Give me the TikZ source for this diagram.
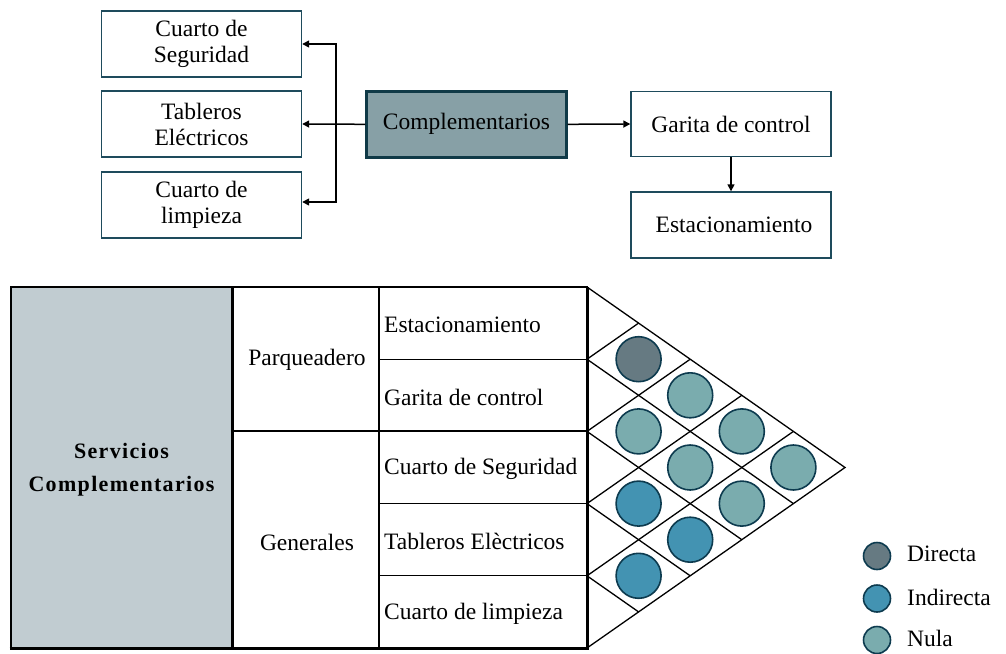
\documentclass[tikz,border=0pt]{standalone}
\usepackage{fontspec}
\setmainfont{Liberation Serif}
\usetikzlibrary{arrows.meta}
\definecolor{boxline}{HTML}{1E4B5C}
\definecolor{compfill}{HTML}{87A0A6}
\definecolor{compline}{HTML}{103A47}
\definecolor{greyfill}{HTML}{C1CCD1}
\definecolor{directa}{HTML}{667A82}
\definecolor{indirecta}{HTML}{4393B2}
\definecolor{nula}{HTML}{7AACAE}
\definecolor{circline}{HTML}{0D3B4F}
\tikzset{
  txt/.style={font=\fontsize{23.5}{26}\selectfont},
  topbox/.style={txt, draw=boxline, line width=1.4pt, minimum width=200pt, minimum height=66pt, align=center, inner sep=0pt},
  compbox/.style={topbox, fill=compfill, draw=compline, line width=2.4pt},
  arr/.style={line width=1.5pt, -{Triangle[length=7pt,width=7pt]}},
  thin/.style={line width=1.3pt},
  thick3/.style={line width=3pt},
  circ/.style={circle, draw=circline, line width=1.6pt, minimum size=45pt, inner sep=0pt},
  legc/.style={circle, draw=circline, line width=1.6pt, minimum size=27pt, inner sep=0pt},
  rowtxt/.style={txt, anchor=west, inner sep=0pt},
}
\begin{document}
\begin{tikzpicture}[x=1pt,y=-1pt]
\useasboundingbox (0,0) rectangle (1006,653);
% top diagram
\node[topbox] (seg) at (201.5,44) {Cuarto de\\Seguridad};
\node[topbox] (tab) at (201.5,124) {Tableros\\Eléctricos};
\node[topbox] (lim) at (201.5,205) {Cuarto de\\limpieza};
\node[compbox] (comp) at (466.5,124.3) {Complementarios};
\node[topbox, minimum height=65pt] (gar) at (731,124) {Garita de control};
\node[topbox] (est) at (731,225) {\hspace*{6pt}Estacionamiento};
\coordinate (bus) at (336,124.3);
\draw[arr] (comp.west) -- (tab.east);
\draw[arr] (bus) |- (seg.east);
\draw[arr] (bus) |- ([yshift=3pt]lim.east);
\draw[arr] (comp.east) -- (gar.west);
\draw[arr] (gar.south) -- (est.north);
% table
\fill[greyfill] (11,287) rectangle (232,648);
\draw[thin] (11,287) rectangle (587,648);
\draw[line width=2pt] (11,287) -- (11,648);
\draw[thick3] (232,287) -- (232,648);
\draw[thick3] (587,287) -- (587,649.5);
\draw[thick3] (9.5,648) -- (588.5,648);
\draw[thin] (232,431) -- (587,431);
\draw[thin] (379,287) -- (379,648);
\foreach \yy in {359.2,503.4,575.6} \draw[thin] (379,\yy) -- (587,\yy);
\node[txt, font=\fontsize{22}{33}\selectfont\bfseries\addfontfeature{LetterSpace=6}, align=center] (serv) at (121.5,470) {Servicios\\Complementarios};
\node[txt] (parq) at (307,359.5) {Parqueadero};
\node[txt] (gen) at (307,542) {Generales};
\node[rowtxt] (r0) at (384,325) {Estacionamiento};
\node[rowtxt] (r1) at (384,397) {Garita de control};
\node[rowtxt] (r2) at (384,469) {Cuarto de Seguridad};
\node[rowtxt] (r3) at (384,541.5) {Tableros Elèctricos};
\node[rowtxt] (r4) at (384,613.5) {Cuarto de limpieza};
% triangle matrix
\draw[thin, line join=miter] (587,287) -- (845,467.5) -- (587,648);
\foreach \k in {1,2,3,4}{
  \pgfmathsetmacro{\yk}{287+72.2*\k}
  \pgfmathsetmacro{\xa}{587+51.6*(5-\k)}
  \pgfmathsetmacro{\ya}{\yk+36.1*(5-\k)}
  \pgfmathsetmacro{\xb}{587+51.6*\k}
  \pgfmathsetmacro{\yb}{\yk-36.1*\k}
  \draw[thin] (587,\yk) -- (\xa,\ya);
  \draw[thin] (587,\yk) -- (\xb,\yb);
}
\node[circ, fill=directa] (c01) at (638.6,359.2) {};
\node[circ, fill=nula] (c02) at (690.2,395.3) {};
\node[circ, fill=nula] (c12) at (638.6,431.4) {};
\node[circ, fill=nula] (c03) at (741.8,431.4) {};
\node[circ, fill=nula] (c13) at (690.2,467.5) {};
\node[circ, fill=nula] (c04) at (793.4,467.5) {};
\node[circ, fill=indirecta] (c23) at (638.6,503.6) {};
\node[circ, fill=nula] (c14) at (741.8,503.6) {};
\node[circ, fill=indirecta] (c24) at (690.2,539.7) {};
\node[circ, fill=indirecta] (c34) at (638.6,575.8) {};
% legend
\node[legc, fill=directa] (ld) at (877,556) {};
\node[legc, fill=indirecta] (li) at (877,598.5) {};
\node[legc, fill=nula] (ln) at (877,640) {};
\node[rowtxt] (ldt) at (907,554) {Directa};
\node[rowtxt] (lit) at (907,597) {Indirecta};
\node[rowtxt] (lnt) at (907,638) {Nula};
\end{tikzpicture}
\end{document}
